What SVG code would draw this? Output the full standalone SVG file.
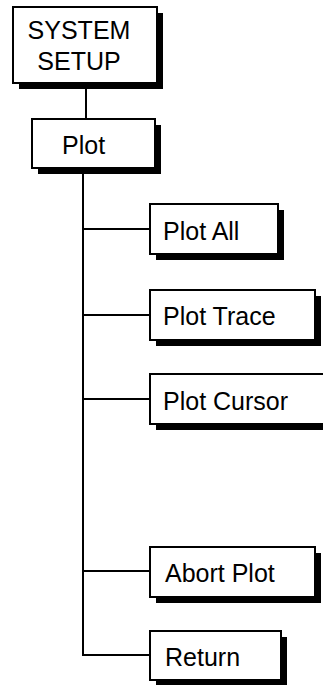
<svg xmlns="http://www.w3.org/2000/svg" width="323" height="685" viewBox="0 0 323 685">
<style>
.sh{fill:#000}
.bx{fill:#fff;stroke:#000;stroke-width:2}
.t{font-family:"Liberation Sans",Arial,sans-serif;font-size:25px;fill:#000}
.c{stroke:#000;stroke-width:2;fill:none}
</style>
<rect width="323" height="685" fill="#fff"/>
<g id="connectors">
<line class="c" x1="86" y1="83" x2="86" y2="119"/>
<line class="c" x1="83" y1="168" x2="83" y2="656"/>
<line class="c" x1="83" y1="229" x2="150" y2="229"/>
<line class="c" x1="83" y1="315" x2="150" y2="315"/>
<line class="c" x1="83" y1="399" x2="150" y2="399"/>
<line class="c" x1="83" y1="571" x2="150" y2="571"/>
<line class="c" x1="82" y1="655" x2="150" y2="655"/>
</g>
<g id="system-setup">
<rect class="sh" x="19" y="13" width="144" height="76"/>
<rect class="bx" x="13" y="7" width="144" height="76"/>
<text class="t" x="79" y="39" text-anchor="middle">SYSTEM</text>
<text class="t" x="79" y="70" text-anchor="middle">SETUP</text>
</g>
<g id="plot">
<rect class="sh" x="38" y="125" width="123" height="49"/>
<rect class="bx" x="32" y="119" width="123" height="49"/>
<text class="t" x="62" y="154">Plot</text>
</g>
<g id="plot-all">
<rect class="sh" x="156" y="210" width="128" height="50"/>
<rect class="bx" x="150" y="204" width="128" height="50"/>
<text class="t" x="163" y="240">Plot All</text>
</g>
<g id="plot-trace">
<rect class="sh" x="156" y="296" width="165" height="50"/>
<rect class="bx" x="150" y="290" width="165" height="50"/>
<text class="t" x="163" y="325">Plot Trace</text>
</g>
<g id="plot-cursor">
<rect class="sh" x="156" y="380" width="200" height="50"/>
<rect class="bx" x="150" y="374" width="200" height="50"/>
<text class="t" x="163" y="410">Plot Cursor</text>
</g>
<g id="abort-plot">
<rect class="sh" x="156" y="553" width="165" height="50"/>
<rect class="bx" x="150" y="547" width="165" height="50"/>
<text class="t" x="165" y="582">Abort Plot</text>
</g>
<g id="return">
<rect class="sh" x="156" y="637" width="131" height="49"/>
<rect class="bx" x="150" y="631" width="131" height="49"/>
<text class="t" x="165" y="666">Return</text>
</g>
</svg>
